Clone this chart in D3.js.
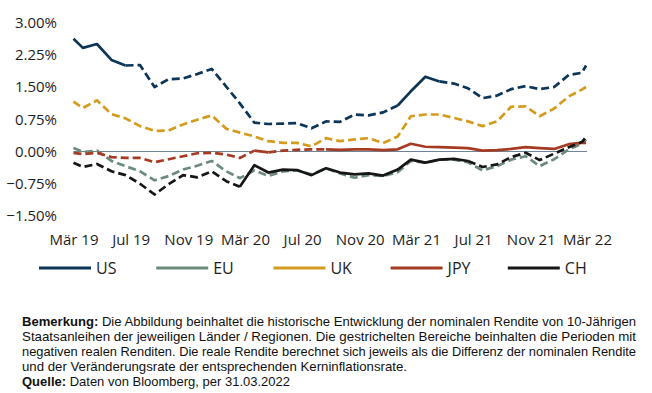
<!DOCTYPE html>
<html>
<head>
<meta charset="utf-8">
<script src="https://cdn.jsdelivr.net/npm/d3@7"></script>
<style>
  body { margin: 0; background: #fff; }
  svg text { font-family: "Open Sans", sans-serif; fill: #1e1e1e; }
  .axis text { font-size: 15px; }
  .legend text { font-size: 16px; }
  .note text { font-family: "Liberation Sans Narrow", "Arial Narrow", "Liberation Sans", sans-serif; font-size: 12.8px; fill: #111; }
</style>
</head>
<body>
<script>
// x axis labels (every 4 months) and y ticks
var tickLabels = ["Mär 19", "Jul 19", "Nov 19", "Mär 20", "Jul 20", "Nov 20", "Mär 21", "Jul 21", "Nov 21", "Mär 22"];
var yTicks = [3.0, 2.25, 1.5, 0.75, 0, -0.75, -1.5];

// nominal 10y yields in %, first value then month ends Mar 19 .. Feb 22, then latest value
var us  = [2.62, 2.41, 2.50, 2.13, 2.00, 2.01, 1.50, 1.68, 1.70, 1.80,
           1.92, 1.51, 1.12, 0.67, 0.64, 0.65, 0.66, 0.54, 0.70, 0.69,
           0.86, 0.84, 0.91, 1.07, 1.40, 1.74, 1.63, 1.58, 1.47, 1.24,
           1.30, 1.45, 1.52, 1.45, 1.50, 1.78, 1.83, 2.00];
var eu  = [0.08, -0.01, 0.02, -0.22, -0.34, -0.46, -0.67, -0.57, -0.42, -0.33,
           -0.22, -0.46, -0.62, -0.44, -0.57, -0.46, -0.44, -0.53, -0.39, -0.51,
           -0.61, -0.55, -0.57, -0.48, -0.22, -0.26, -0.19, -0.19, -0.25, -0.44,
           -0.34, -0.19, -0.11, -0.34, -0.18, 0.05, 0.18, 0.28];
var uk  = [1.16, 1.01, 1.19, 0.87, 0.77, 0.59, 0.48, 0.49, 0.63, 0.74,
           0.84, 0.53, 0.44, 0.35, 0.24, 0.20, 0.20, 0.12, 0.31, 0.24,
           0.28, 0.31, 0.20, 0.35, 0.82, 0.86, 0.86, 0.78, 0.70, 0.59,
           0.70, 1.04, 1.05, 0.82, 1.00, 1.28, 1.44, 1.50];
var jpy = [-0.03, -0.06, -0.03, -0.13, -0.15, -0.15, -0.25, -0.18, -0.11, -0.04,
           -0.03, -0.07, -0.15, 0.02, -0.02, 0.02, 0.04, 0.05, 0.05, 0.04,
           0.05, 0.05, 0.03, 0.05, 0.18, 0.11, 0.10, 0.09, 0.08, 0.02,
           0.03, 0.06, 0.10, 0.08, 0.06, 0.17, 0.20, 0.20];
var ch  = [-0.26, -0.36, -0.29, -0.46, -0.55, -0.75, -1.00, -0.76, -0.55, -0.60,
           -0.46, -0.69, -0.82, -0.32, -0.49, -0.42, -0.43, -0.55, -0.39, -0.49,
           -0.53, -0.51, -0.56, -0.42, -0.19, -0.26, -0.19, -0.17, -0.22, -0.36,
           -0.30, -0.13, -0.03, -0.20, -0.05, 0.10, 0.22, 0.34];

// index ranges drawn solid (positive real yield), the rest is dashed
var usSolid = [[0, 4], [23, 26]];
var euSolid = [];
var ukSolid = [];
var jpySolid = [[13, 14], [18, 37]];
var chSolid = [[12, 28]];

var noteLines = [
  ["Bemerkung:", " Die Abbildung beinhaltet die historische Entwicklung der nominalen Rendite von 10-Jährigen"],
  ["", "Staatsanleihen der jeweiligen Länder / Regionen. Die gestrichelten Bereiche beinhalten die Perioden mit"],
  ["", "negativen realen Renditen. Die reale Rendite berechnet sich jeweils als die Differenz der nominalen Rendite"],
  ["", "und der Veränderungsrate der entsprechenden Kerninflationsrate."],
  ["Quelle:", " Daten von Bloomberg, per 31.03.2022"]
];

var startDate = new Date(2019, 2, 11);
var endDate = new Date(2022, 2, 9);
var monthEnds = d3.timeMonth.range(new Date(2019, 3, 1), new Date(2022, 2, 2))
    .map(function(d) { return d3.timeDay.offset(d, -1); });
var dates = [startDate].concat(monthEnds, [endDate]);
var tickDates = tickLabels.map(function(l, i) { return d3.timeMonth.offset(startDate, i * 4); });

var series = [
  {name: "US",  values: us,  solid: usSolid,  color: "#0c3558"},
  {name: "EU",  values: eu,  solid: euSolid,  color: "#6d8b7d"},
  {name: "UK",  values: uk,  solid: ukSolid,  color: "#d49b1c"},
  {name: "JPY", values: jpy, solid: jpySolid, color: "#a53b23"},
  {name: "CH",  values: ch,  solid: chSolid,  color: "#161616"}
];

var width = 652, height = 393;
var svg = d3.select("body").append("svg")
    .attr("width", width)
    .attr("height", height);

var x = d3.scaleTime()
    .domain([startDate, d3.timeMonth.offset(startDate, 36)])
    .range([73.5, 587]);
var y = d3.scaleLinear()
    .domain([-1.5, 3.0])
    .range([216, 22.5]);

// axes
svg.append("g")
    .attr("class", "axis")
    .attr("transform", "translate(73,0)")
    .call(d3.axisLeft(y).tickValues(yTicks).tickSize(0).tickPadding(16)
      .tickFormat(function(d) { return d3.format(".2f")(d) + "%"; }))
    .call(function(g) { g.select(".domain").remove(); });

svg.append("g")
    .attr("class", "axis")
    .attr("transform", "translate(0,234)")
    .call(d3.axisBottom(x).tickValues(tickDates).tickSize(0).tickPadding(0)
      .tickFormat(function(d, i) { return tickLabels[i]; }))
    .call(function(g) { g.select(".domain").remove(); });

// zero line
svg.append("line")
    .attr("x1", x(startDate))
    .attr("x2", x(endDate) + 1)
    .attr("y1", y(0))
    .attr("y2", y(0))
    .attr("stroke", "#6f8597")
    .attr("stroke-width", 1.2);

var line = d3.line()
    .x(function(i) { return x(dates[i]); });

function pieces(s) {
  var out = [], cur = null;
  for (var i = 0; i < s.values.length - 1; i++) {
    var solid = s.solid.some(function(r) { return i >= r[0] && i < r[1]; });
    if (!cur || cur.solid !== solid) {
      cur = {solid: solid, idx: [i]};
      out.push(cur);
    }
    cur.idx.push(i + 1);
  }
  return out;
}

series.forEach(function(s) {
  line.y(function(i) { return y(s.values[i]); });
  svg.append("g")
    .selectAll("path")
    .data(pieces(s))
    .enter().append("path")
      .attr("d", function(p) { return line(p.idx); })
      .attr("fill", "none")
      .attr("stroke", s.color)
      .attr("stroke-width", 2.7)
      .attr("stroke-linejoin", "round")
      .attr("stroke-dasharray", function(p) { return p.solid ? null : "8,4"; });
});

// legend
var legend = svg.append("g")
    .attr("class", "legend")
    .selectAll("g")
    .data(series)
    .enter().append("g")
      .attr("transform", function(d, i) { return "translate(" + (39 + i * 117.2) + ",268)"; });
legend.append("line")
    .attr("x1", 0).attr("x2", 52)
    .attr("stroke", function(d) { return d.color; })
    .attr("stroke-width", 3);
legend.append("text")
    .attr("x", 57)
    .attr("dy", "0.36em")
    .text(function(d) { return d.name; });

// note
var noteWidths = [614, 614, 614, 385, 268];
var note = svg.append("g").attr("class", "note");
noteLines.forEach(function(l, i) {
  var t = note.append("text")
      .attr("x", 22)
      .attr("y", 325.5 + i * 15.1)
      .attr("textLength", noteWidths[i])
      .attr("lengthAdjust", "spacingAndGlyphs");
  if (l[0]) t.append("tspan").attr("font-weight", "bold").text(l[0]);
  t.append("tspan").text(l[1]);
});
</script>
</body>
</html>
